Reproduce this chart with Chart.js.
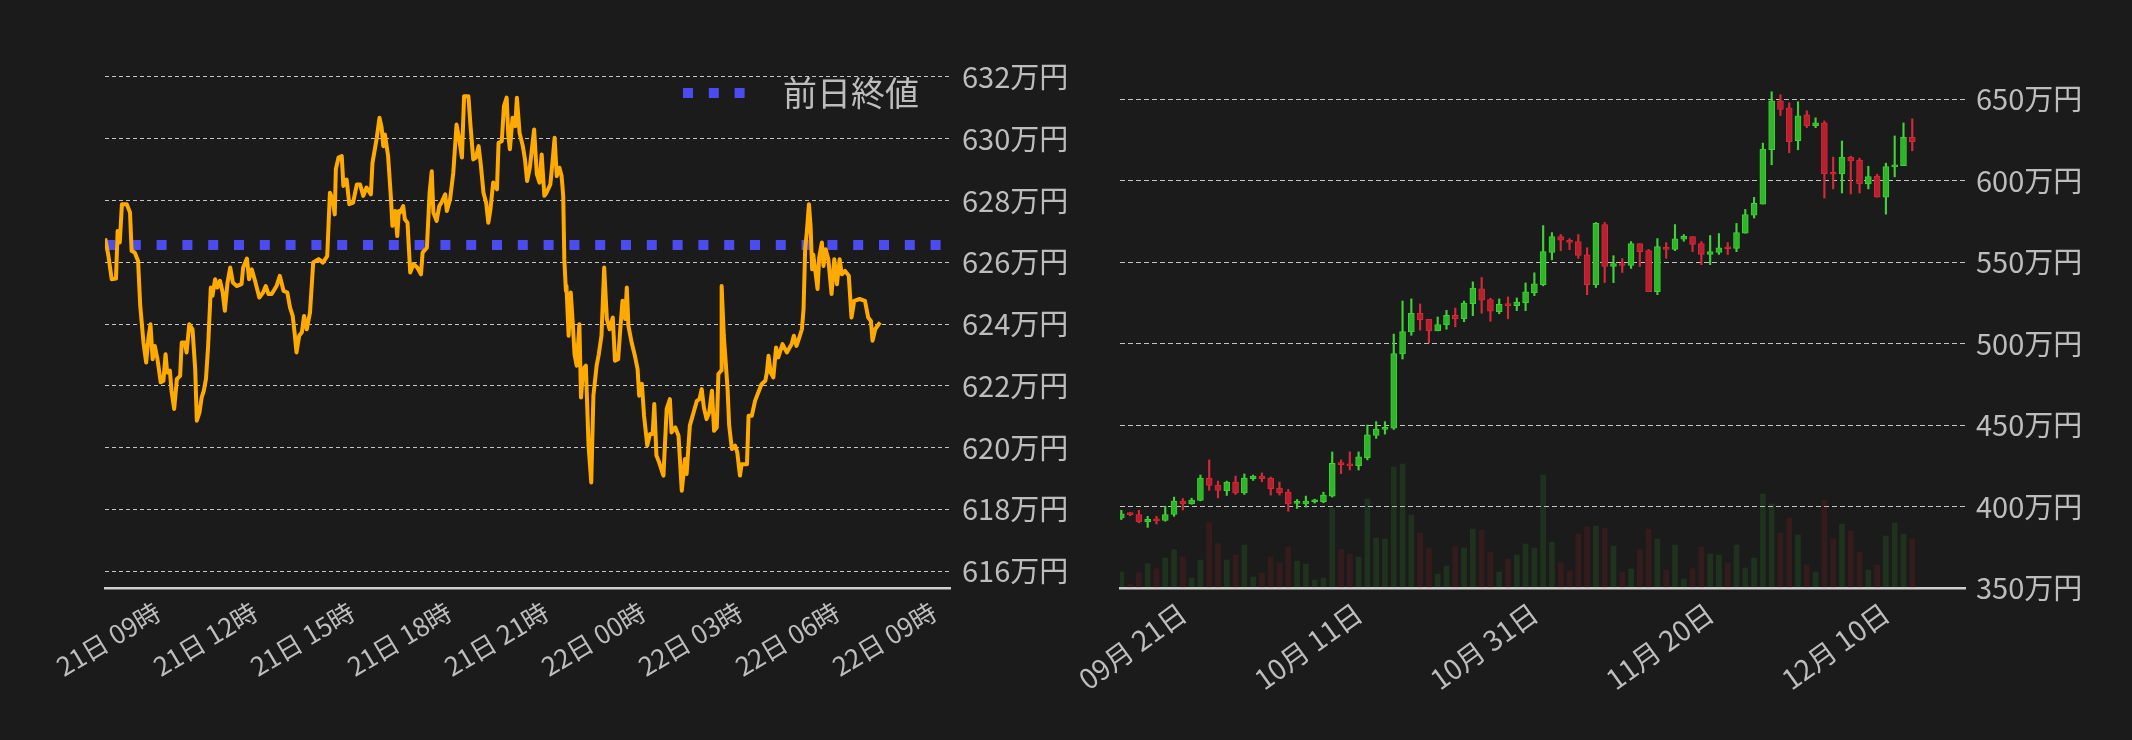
<!DOCTYPE html>
<html>
<head>
<meta charset="utf-8">
<script src="https://cdn.jsdelivr.net/npm/chart.js@4.4.1/dist/chart.umd.min.js"></script>
<style>
  html, body { margin: 0; padding: 0; background: #1b1b1b; }
  .box { position: absolute; top: 0; width: 1066px; height: 740px; }
  #left { left: 0; }
  #right { left: 1066px; }
</style>
</head>
<body>
<div class="box" id="left"><canvas id="intraday"></canvas></div>
<div class="box" id="right"><canvas id="daily"></canvas></div>
<script>
// --- intraday (minutes since 21日 00:00, price in 万円) ---
const lineTimes = [
  442,448,454,462,465,469,473,482,488,491,
  497,503,507,513,518,522,526,530,534,539,
  545,550,554,557,562,565,570,575,581,584,
  590,593,598,604,609,612,617,621,625,629,
  633,638,641,646,650,655,660,664,669,674,
  679,686,695,698,705,709,714,720,728,735,
  740,745,751,760,766,773,780,785,790,794,
  797,802,807,811,816,822,828,838,846,854,
  859,864,868,870,875,881,884,890,895,902,
  909,915,921,927,935,938,946,951,955,958,
  961,967,972,975,980,984,987,
  989,995,998,1003,1008,1014,1021,1028,1031,1039,
  1044,1048,1051,1057,1062,1066,1073,1076,1082,1088,
  1094,1099,1104,1108,1116,1120,1125,1130,1135,1139,
  1144,1149,1153,1157,1162,1169,1172,1178,1182,1187,
  1190,1193,1198,1203,1206,1211,1217,1221,1225,1230,
  1238,1243,1248,1252,1257,1261,1268,1272,1276,1280,
  1285,1289,1292,1294,1297,1298,1302,1306,1310,1313,
  1317,1322,1325,1329,1334,1339,1344,1348,1354,1358,
  1363,1368,1373,1378,1384,1388,1394,1397,1402,1407,
  1410,1413,1419,1425,1430,1433,1438,1442,1448,1453,
  1458,1461,1465,1470,1478,1484,1490,1493,1500,1506,
  1512,1518,1521,1527,1534,1540,1545,
  1549,1553,1558,1563,1568,1572,1577,1580,1585,1586,
  1590,1594,1597,1600,1605,1611,1615,1620,1623,1633,
  1636,1642,1648,1654,1660,1667,1670,1673,1677,1682,
  1687,1691,1699,1707,1716,1720,1725,1730,1735,1738,
  1741,1744,1748,1751,1754,1756,1761,1764,1767,1772,
  1775,1779,1784,1790,1795,1800,1805,1809,1815,1822,
  1827,1832,1842,1852,1858,1863,1866,1871,1880
];
const linePrices = [
  626.77,626.20,625.45,625.47,627.01,626.64,627.88,627.88,627.61,626.37,
  626.31,626.04,624.59,623.40,622.75,623.51,623.99,622.86,623.29,622.86,
  622.11,622.16,623.02,622.43,622.49,621.84,621.25,622.22,622.32,623.40,
  623.40,623.08,623.99,623.83,622.54,620.87,621.14,621.62,621.84,622.22,
  623.29,625.18,624.91,625.45,625.18,625.40,625.02,624.43,625.34,625.83,
  625.34,625.23,625.29,625.83,626.12,625.45,625.77,625.40,624.86,625.02,
  625.23,624.97,624.97,625.23,625.56,625.07,625.02,624.53,624.26,623.62,
  623.08,623.62,623.73,624.26,623.83,624.37,625.99,626.10,625.99,626.20,
  628.25,628.04,627.55,629.01,629.39,629.44,628.47,628.68,627.88,627.93,
  628.52,628.52,628.15,628.42,628.20,629.22,630.03,630.68,630.36,629.76,
  630.14,629.44,628.15,627.18,627.66,626.85,627.66,
  627.61,627.82,627.39,627.28,625.67,625.94,625.83,625.61,626.31,626.47,
  628.25,628.95,627.61,627.34,627.82,627.93,628.20,627.66,628.04,628.90,
  630.46,629.98,629.39,631.38,631.38,630.41,629.33,629.39,629.76,629.17,
  628.25,627.93,627.28,627.72,628.58,628.36,629.87,629.92,631.06,631.33,
  630.14,629.66,630.68,630.41,631.33,630.19,629.76,629.33,628.63,629.06,
  630.30,628.85,628.58,629.49,628.15,628.25,628.52,629.22,630.03,628.79,
  629.06,628.79,628.15,626.10,625.07,625.23,623.62,625.02,623.94,623.02,
  622.65,623.99,621.62,622.54,622.65,620.06,618.87,621.68,622.65,623.02,
  623.62,625.83,624.16,623.83,624.21,622.81,622.86,623.62,624.75,624.16,
  625.18,623.94,623.40,622.97,622.54,621.68,622.06,621.03,620.06,620.44,
  620.44,621.41,619.74,619.52,619.09,621.25,621.57,620.49,620.65,620.38,
  618.60,619.63,619.14,620.71,621.14,621.51,621.57,
  621.89,621.30,620.92,621.14,621.84,620.54,620.65,622.38,622.49,625.23,
  623.62,622.65,621.89,620.71,619.95,620.06,619.84,619.09,619.46,619.46,
  621.03,621.03,621.51,621.78,622.05,622.16,622.43,622.97,622.43,622.27,
  623.24,622.92,623.35,623.08,623.35,623.62,623.29,623.56,623.83,624.48,
  626.42,626.96,627.88,627.18,625.77,626.25,625.56,625.13,626.15,626.64,
  625.88,626.42,626.10,624.97,626.10,625.29,626.10,625.61,625.72,625.56,
  624.21,624.75,624.81,624.75,624.21,624.10,623.46,623.83,624.05
];
const prevClose = 626.56;
const hourTicks = [540, 720, 900, 1080, 1260, 1440, 1620, 1800, 1980];
const hourLabels = ['21日 09時', '21日 12時', '21日 15時', '21日 18時', '21日 21時',
                    '22日 00時', '22日 03時', '22日 06時', '22日 09時'];
const intradayTicks = [616, 618, 620, 622, 624, 626, 628, 630, 632];

// --- daily candles (one per day from 09/14, 万円) ---
const openPrices = [
  393.0,395.4,395.1,390.5,392.4,391.4,395.1,403.3,401.6,403.7,
  417.5,413.2,409.7,415.0,408.4,417.1,418.7,417.5,411.3,408.8,
  401.9,401.6,402.9,402.9,406.4,427.0,426.1,425.1,430.0,443.6,
  447.3,448.1,493.6,507.2,518.5,514.8,507.8,511.5,517.3,515.2,
  524.5,533.6,527.0,519.5,524.1,523.3,525.1,531.3,536.2,556.0,
  565.6,563.2,562.6,554.5,536.2,573.0,547.3,549.0,547.9,561.3,
  557.0,531.9,558.8,557.8,564.0,565.6,561.3,554.7,556.0,558.8,
  558.4,567.7,578.8,585.6,618.9,649.0,644.7,624.5,640.3,633.7,
  635.4,604.7,604.1,614.4,612.6,597.9,602.7,589.9,608.4,609.1,
  626.5
];
const highPrices = [
  397.7,396.2,397.7,394.0,394.0,400.2,405.8,404.9,405.1,419.3,
  428.6,415.6,415.6,418.7,420.0,419.3,420.6,418.1,415.0,410.5,
  404.3,406.4,404.5,408.8,433.5,428.6,433.5,433.5,450.0,452.1,
  452.1,505.8,526.1,527.4,524.3,514.8,516.3,520.4,521.8,526.1,
  537.9,540.6,527.8,527.4,528.6,528.0,537.2,543.4,572.4,568.1,
  566.9,564.4,566.9,558.8,574.3,574.3,553.9,552.1,562.6,561.3,
  557.8,564.4,561.9,573.0,566.9,565.6,562.6,566.3,567.5,561.9,
  573.7,582.3,589.7,623.0,654.5,652.7,647.7,648.4,642.8,638.5,
  636.6,614.4,624.3,615.0,613.8,608.8,603.9,610.7,627.4,635.4,
  637.9
];
const lowPrices = [
  392.0,394.3,390.0,387.2,389.3,391.0,394.0,397.9,401.4,403.5,
  409.9,405.3,406.8,407.4,407.4,416.0,415.2,407.0,407.0,397.1,
  398.8,399.6,402.1,402.3,405.8,420.2,422.4,422.4,428.6,441.8,
  444.4,447.3,490.5,505.1,508.2,500.4,507.8,508.8,510.3,513.4,
  517.1,518.6,513.7,518.3,515.2,520.2,520.2,529.4,535.4,551.4,
  557.0,557.6,552.3,530.0,534.4,537.4,537.4,543.6,546.1,547.3,
  531.9,530.0,552.3,557.0,562.8,556.4,548.4,548.4,554.7,554.7,
  556.4,567.7,577.0,585.6,609.7,639.9,617.1,618.9,632.5,632.5,
  589.3,594.9,592.4,591.8,592.4,594.9,589.9,579.4,602.3,609.1,
  618.3
];
const closePrices = [
  395.5,395.0,390.5,392.2,391.2,395.1,403.3,401.6,403.9,417.5,
  413.0,409.9,415.0,408.4,417.5,418.7,417.1,410.9,408.4,401.6,
  402.5,403.3,403.5,407.0,426.5,425.7,424.9,430.5,444.0,447.5,
  448.3,493.8,507.4,518.5,514.6,507.8,511.7,517.3,515.2,524.9,
  534.0,526.6,519.8,524.1,523.3,525.5,531.7,536.6,556.4,565.6,
  563.4,562.1,554.1,536.2,573.7,547.3,549.0,547.9,561.3,556.4,
  531.9,559.5,557.8,564.2,565.8,560.9,554.7,556.4,558.8,558.2,
  568.1,579.2,586.0,619.3,649.0,643.6,623.9,639.7,633.7,635.4,
  604.1,603.9,614.4,612.1,597.9,602.5,589.9,608.6,609.5,626.5,
  623.9
];
const volumes = [
  48,12,46,73,58,90,115,93,30,84,
  195,133,84,99,129,33,45,93,75,123,
  81,72,24,30,240,115,102,93,267,150,
  147,363,372,219,165,120,42,66,123,120,
  177,174,108,48,87,99,132,120,339,138,
  75,51,162,183,186,180,126,48,57,115,
  177,147,54,129,27,58,123,102,99,75,
  129,60,90,282,252,165,210,159,69,48,
  264,147,192,171,108,54,69,156,195,162,
  147
];
const dayTicks = [7, 27, 47, 67, 87];
const dayLabels = ['09月 21日', '10月 11日', '10月 31日', '11月 20日', '12月 10日'];
const dailyTicks = [350, 400, 450, 500, 550, 600, 650];

const FONT = "'Noto Sans CJK JP', 'Noto Sans', sans-serif";
const TEXT = '#bdbdbd';
const GRID = 'rgba(215,215,215,0.9)';
Chart.defaults.font.family = FONT;
Chart.defaults.color = TEXT;

// legend for the previous close line, drawn inside the plot area
const prevCloseLegend = {
  id: 'prevCloseLegend',
  afterDraw(chart) {
    const ds = chart.data.datasets[1];
    const { ctx, chartArea } = chart;
    const y = 93;
    const x0 = chartArea.right - 267;
    ctx.save();
    ctx.strokeStyle = ds.borderColor;
    ctx.lineWidth = ds.borderWidth;
    ctx.setLineDash(ds.borderDash);
    ctx.beginPath();
    ctx.moveTo(x0, y);
    ctx.lineTo(x0 + 62, y);
    ctx.stroke();
    ctx.setLineDash([]);
    ctx.fillStyle = TEXT;
    ctx.font = '34px ' + FONT;
    ctx.textBaseline = 'middle';
    ctx.fillText(ds.label, x0 + 100, y);
    ctx.restore();
  }
};

new Chart(document.getElementById('intraday'), {
  type: 'line',
  data: {
    datasets: [
      {
        label: '価格',
        data: lineTimes.map((t, i) => ({ x: t, y: linePrices[i] })),
        borderColor: '#ffaa00',
        borderWidth: 4,
        borderJoinStyle: 'round',
        pointRadius: 0,
        tension: 0
      },
      {
        label: '前日終値',
        data: [{ x: 441.6, y: prevClose }, { x: 2009.8, y: prevClose }],
        borderColor: '#4b4bef',
        borderWidth: 10,
        borderDash: [10, 15.8],
        pointRadius: 0
      }
    ]
  },
  options: {
    responsive: true,
    maintainAspectRatio: false,
    animation: false,
    layout: { padding: { left: 105, top: 60, right: 0, bottom: 0 } },
    plugins: { legend: { display: false }, tooltip: { enabled: false } },
    scales: {
      x: {
        type: 'linear',
        min: 441.6,
        max: 2009.8,
        afterBuildTicks: s => { s.ticks = hourTicks.map(v => ({ value: v })); },
        afterFit: s => { s.height = 152; },
        grid: { display: false, drawTicks: false },
        border: { display: true, color: '#cfcfcf', width: 2.5 },
        ticks: {
          autoSkip: false, minRotation: 31, maxRotation: 31, padding: 8,
          font: { size: 26 }, color: TEXT,
          callback: (v, i) => hourLabels[i]
        }
      },
      y: {
        position: 'right',
        min: 615.45,
        max: 632.55,
        afterBuildTicks: s => { s.ticks = intradayTicks.map(v => ({ value: v })); },
        afterFit: s => { s.width = 116; },
        grid: { color: GRID, lineWidth: 1, drawTicks: false },
        border: { display: false, dash: [4, 3] },
        ticks: { padding: 12, font: { size: 29 }, color: TEXT, callback: v => v + '万円' }
      }
    }
  },
  plugins: [prevCloseLegend]
});

// candles: floating bars for bodies and wicks, volume on a hidden axis
const idx = openPrices.map((_, i) => i);
const isUp = idx.map(i => closePrices[i] >= openPrices[i]);
const bodyFill = isUp.map(u => u ? '#2fb52a' : '#b8202f');
const bodyEdge = isUp.map(u => u ? '#3fd135' : '#d42a38');
const volFill = isUp.map(u => u ? 'rgba(60,190,45,0.15)' : 'rgba(200,40,50,0.15)');

new Chart(document.getElementById('daily'), {
  type: 'bar',
  data: {
    datasets: [
      {
        label: 'body',
        data: idx.map(i => ({ x: i, y: [openPrices[i], closePrices[i]] })),
        backgroundColor: bodyFill,
        borderColor: bodyEdge,
        borderWidth: 1,
        borderSkipped: false,
        barThickness: 6,
        minBarLength: 2,
        grouped: false,
        order: 1,
        yAxisID: 'y'
      },
      {
        label: 'wick',
        data: idx.map(i => ({ x: i, y: [lowPrices[i], highPrices[i]] })),
        backgroundColor: bodyEdge,
        barThickness: 1.5,
        grouped: false,
        order: 2,
        yAxisID: 'y'
      },
      {
        label: 'volume',
        data: idx.map(i => ({ x: i, y: volumes[i] })),
        backgroundColor: volFill,
        barThickness: 5,
        grouped: false,
        order: 3,
        yAxisID: 'vol'
      }
    ]
  },
  options: {
    responsive: true,
    maintainAspectRatio: false,
    animation: false,
    layout: { padding: { left: 54, top: 60, right: 0, bottom: 0 } },
    plugins: { legend: { display: false }, tooltip: { enabled: false } },
    scales: {
      x: {
        type: 'linear',
        offset: false,
        min: -0.15,
        max: 96,
        afterBuildTicks: s => { s.ticks = dayTicks.map(v => ({ value: v })); },
        afterFit: s => { s.height = 152; },
        grid: { display: false, drawTicks: false },
        border: { display: true, color: '#cfcfcf', width: 2.5 },
        ticks: {
          autoSkip: false, minRotation: 36, maxRotation: 36, padding: 8,
          font: { size: 28 }, color: TEXT,
          callback: (v, i) => dayLabels[i]
        }
      },
      y: {
        position: 'right',
        min: 350,
        max: 674,
        afterBuildTicks: s => { s.ticks = dailyTicks.map(v => ({ value: v })); },
        afterFit: s => { s.width = 167; },
        grid: { color: GRID, lineWidth: 1, drawTicks: false },
        border: { display: false, dash: [5, 3] },
        ticks: { padding: 11, font: { size: 29 }, color: TEXT, callback: v => v + '万円' }
      },
      vol: { display: false, min: 0, max: 1584 }
    }
  }
});
</script>
</body>
</html>
